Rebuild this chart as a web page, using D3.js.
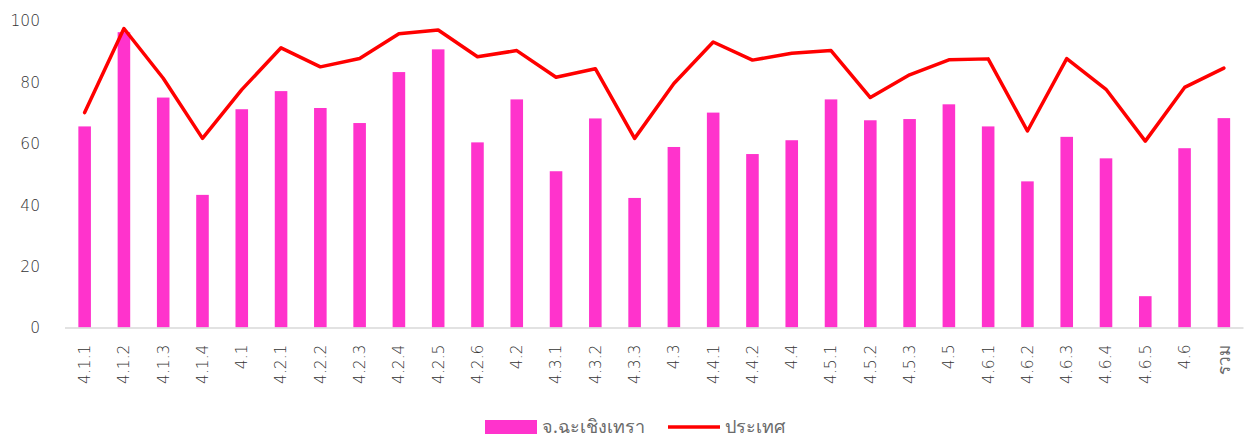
<!DOCTYPE html>
<html>
<head>
<meta charset="utf-8">
<script src="https://cdn.jsdelivr.net/npm/d3@7"></script>
<style>
  html, body { margin: 0; padding: 0; background: #fff; }
  svg { display: block; font-family: "DejaVu Sans", "Noto Sans", sans-serif; }
  .num { font-weight: 200; }
  .thai { font-family: "Noto Sans", "DejaVu Sans", sans-serif; font-weight: 400; }
</style>
</head>
<body>
<svg id="chart" width="1246" height="439"></svg>
<script>
// Indicator codes along the x axis
const categories = [
  "4.1.1", "4.1.2", "4.1.3", "4.1.4", "4.1",
  "4.2.1", "4.2.2", "4.2.3", "4.2.4", "4.2.5", "4.2.6", "4.2",
  "4.3.1", "4.3.2", "4.3.3", "4.3",
  "4.4.1", "4.4.2", "4.4",
  "4.5.1", "4.5.2", "4.5.3", "4.5",
  "4.6.1", "4.6.2", "4.6.3", "4.6.4", "4.6.5", "4.6",
  "รวม"
];

// Province scores (bars)
const provinceValues = [
  65.5, 96.2, 74.9, 43.2, 71.1,
  77.0, 71.5, 66.6, 83.2, 90.6, 60.3, 74.3,
  50.9, 68.1, 42.2, 58.8,
  70.0, 56.5, 61.0,
  74.3, 67.5, 67.9, 72.7,
  65.5, 47.6, 62.1, 55.1, 10.2, 58.4,
  68.2
];

// National scores (line)
const countryValues = [
  70.0, 97.4, 81.2, 61.6, 77.5,
  91.1, 84.9, 87.6, 95.7, 96.9, 88.2, 90.2,
  81.5, 84.3, 61.6, 79.5,
  93.0, 87.1, 89.3,
  90.2, 74.9, 82.3, 87.2,
  87.5, 64.0, 87.6, 77.6, 60.7, 78.2,
  84.5
];

const yTicks = [0, 20, 40, 60, 80, 100];
const seriesNames = ["จ.ฉะเชิงเทรา", "ประเทศ"];

const svg = d3.select("#chart");
const plotLeft = 65, plotRight = 1243.5, plotTop = 20.5, plotBottom = 327.5;
const isThai = s => /[\u0E00-\u0E7F]/.test(s);
const numGray = "#333333";
const textGray = "#6a6a6a";

const x = d3.scaleBand()
  .domain(categories)
  .range([plotLeft, plotRight])
  .paddingInner(0.68)
  .paddingOuter(0.34);

const y = d3.scaleLinear().domain([0, 100]).range([plotBottom, plotTop]);

// Y axis labels (no line, no ticks)
const yAxis = d3.axisLeft(y).tickValues(yTicks).tickSize(0).tickPadding(0);
const gy = svg.append("g")
  .attr("transform", "translate(40,0)")
  .call(yAxis)
  .attr("font-family", null);
gy.select(".domain").remove();
gy.selectAll("text")
  .attr("class", "num")
  .attr("fill", numGray)
  .attr("font-size", 15.5)
  .attr("dy", "0.35em");

// Bars
svg.append("g")
  .selectAll("rect")
  .data(categories)
  .join("rect")
  .attr("x", d => x(d))
  .attr("width", x.bandwidth())
  .attr("y", (d, i) => y(provinceValues[i]))
  .attr("height", (d, i) => y(0) - y(provinceValues[i]))
  .attr("fill", "#ff33cc");

// X axis baseline and rotated labels
const xAxis = d3.axisBottom(x).tickSize(0).tickPadding(0);
const gx = svg.append("g")
  .attr("transform", `translate(0,${plotBottom})`)
  .call(xAxis)
  .attr("font-family", null);
gx.select(".domain")
  .attr("stroke", "#d9d9d9")
  .attr("stroke-width", 1.5)
  .attr("d", `M${plotLeft},0.5H${plotRight}`);
gx.selectAll(".tick text")
  .attr("class", d => isThai(d) ? "thai" : "num")
  .attr("fill", d => isThai(d) ? textGray : numGray)
  .attr("font-size", d => isThai(d) ? 17 : 15.5)
  .attr("text-anchor", "end")
  .attr("transform", "rotate(-90)")
  .attr("x", -17)
  .attr("y", 0)
  .attr("dy", "0.35em");

// National line
const line = d3.line()
  .x((d, i) => x(categories[i]) + x.bandwidth() / 2)
  .y(d => y(d));

svg.append("path")
  .datum(countryValues)
  .attr("fill", "none")
  .attr("stroke", "#ff0000")
  .attr("stroke-width", 3.5)
  .attr("stroke-linejoin", "round")
  .attr("stroke-linecap", "round")
  .attr("d", line);

// Legend
const legend = svg.append("g").attr("class", "thai").attr("font-size", 18);
legend.append("rect")
  .attr("x", 485).attr("y", 420)
  .attr("width", 52).attr("height", 14)
  .attr("fill", "#ff33cc");
legend.append("text")
  .attr("x", 542).attr("y", 427).attr("dy", "0.35em")
  .attr("fill", textGray)
  .text(seriesNames[0]);
legend.append("line")
  .attr("x1", 668).attr("x2", 720)
  .attr("y1", 427).attr("y2", 427)
  .attr("stroke", "#ff0000").attr("stroke-width", 3.5);
legend.append("text")
  .attr("x", 725).attr("y", 427).attr("dy", "0.35em")
  .attr("fill", textGray)
  .text(seriesNames[1]);
</script>
</body>
</html>
